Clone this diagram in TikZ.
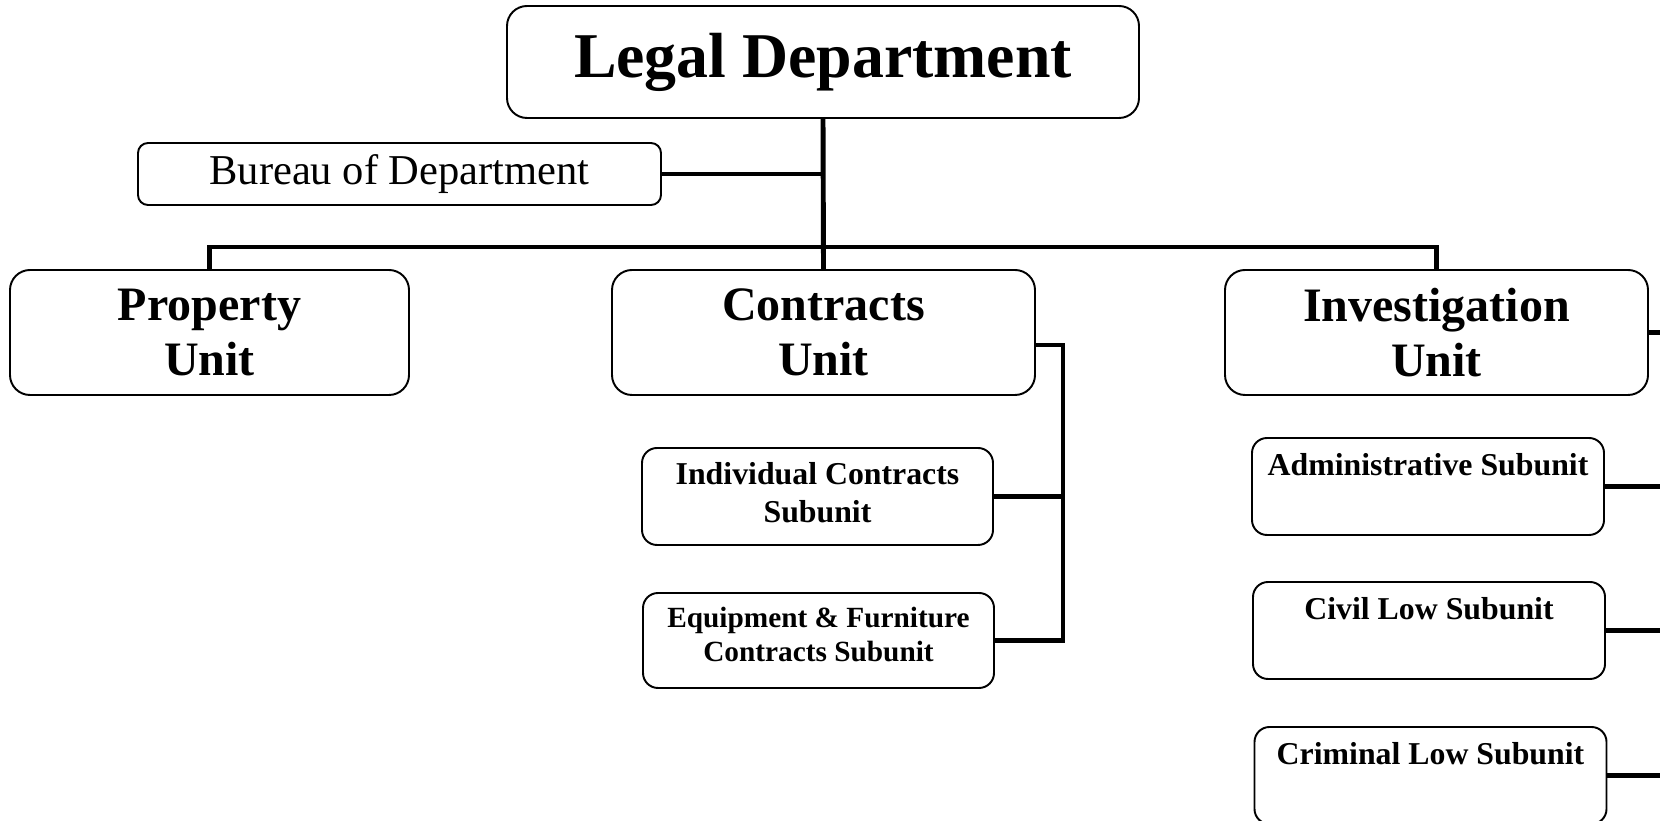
\documentclass[tikz,border=0pt]{standalone}
\usepackage{fontspec}
\setmainfont{Liberation Serif}
\usepackage{tikz}

\begin{document}
\begin{tikzpicture}[
  box/.style={draw, line width=0.55pt, rounded corners=2mm, inner sep=0pt, align=center},
  unitbox/.style={box, minimum height=1.25cm, font=\fontsize{13.66}{15.65}\selectfont\bfseries},
  subbox/.style={box, rounded corners=1.5mm, minimum width=3.52cm, minimum height=0.97cm, font=\fontsize{9.05}{10.7}\selectfont\bfseries},
  link/.style={line width=1.4pt}
]
\useasboundingbox (0,0) rectangle (16.6,-8.21);

\node[box, minimum width=6.32cm, minimum height=1.12cm, font=\fontsize{18.15}{20}\selectfont\bfseries] (legal) at (8.23,-0.62) {Legal Department\rule[-1.8pt]{0pt}{0pt}};
\node[box, rounded corners=1mm, minimum width=5.23cm, minimum height=0.62cm, font=\fontsize{12.1}{14}\selectfont] (bureau) at (3.995,-1.74) {Bureau of Department};

\node[unitbox, minimum width=3.99cm] (property) at (2.095,-3.325) {Property\\Unit};
\node[unitbox, minimum width=4.23cm] (contracts) at (8.235,-3.325) {Contracts\\Unit};
\node[unitbox, minimum width=4.23cm] (investigation) at (14.365,-3.325) {Investigation\\Unit};

\node[subbox, minimum width=3.51cm] (individual) at (8.175,-4.965) {Individual Contracts\\Subunit\rule[-2.4pt]{0pt}{0pt}};
\node[subbox, minimum width=3.51cm, minimum height=0.95cm, font=\fontsize{8.34}{9.5}\selectfont\bfseries] (equipment) at (8.185,-6.405) {Equipment \& Furniture\\Contracts Subunit\rule[-3.6pt]{0pt}{0pt}};

% text sits at the top of these boxes
\node[subbox] (administrative) at (14.28,-4.865) {Administrative Subunit\\[2pt]~};
\node[subbox] (civil) at (14.29,-6.305) {Civil Low Subunit\\[2pt]~};
\node[subbox] (criminal) at (14.305,-7.755) {Criminal Low Subunit\\[2pt]~};

\coordinate (bus) at (8.235,-2.47);
\coordinate (cside) at (10.63,-3.45);
\coordinate (edge) at (16.6,0);

\draw[link] (legal.south) -- (contracts.north);
\draw[link] (bureau.east) -- (bureau.east -| legal.south);
\draw[link] (property.north) |- (bus) -| (investigation.north);
\draw[link] (contracts.east |- cside) -- (cside) |- (equipment.east);
\draw[link] (individual.east) -- (individual.east -| cside);
\foreach \n in {investigation,administrative,civil,criminal}
  \draw[link] (\n.east) -- (\n.east -| edge);
\end{tikzpicture}
\end{document}
